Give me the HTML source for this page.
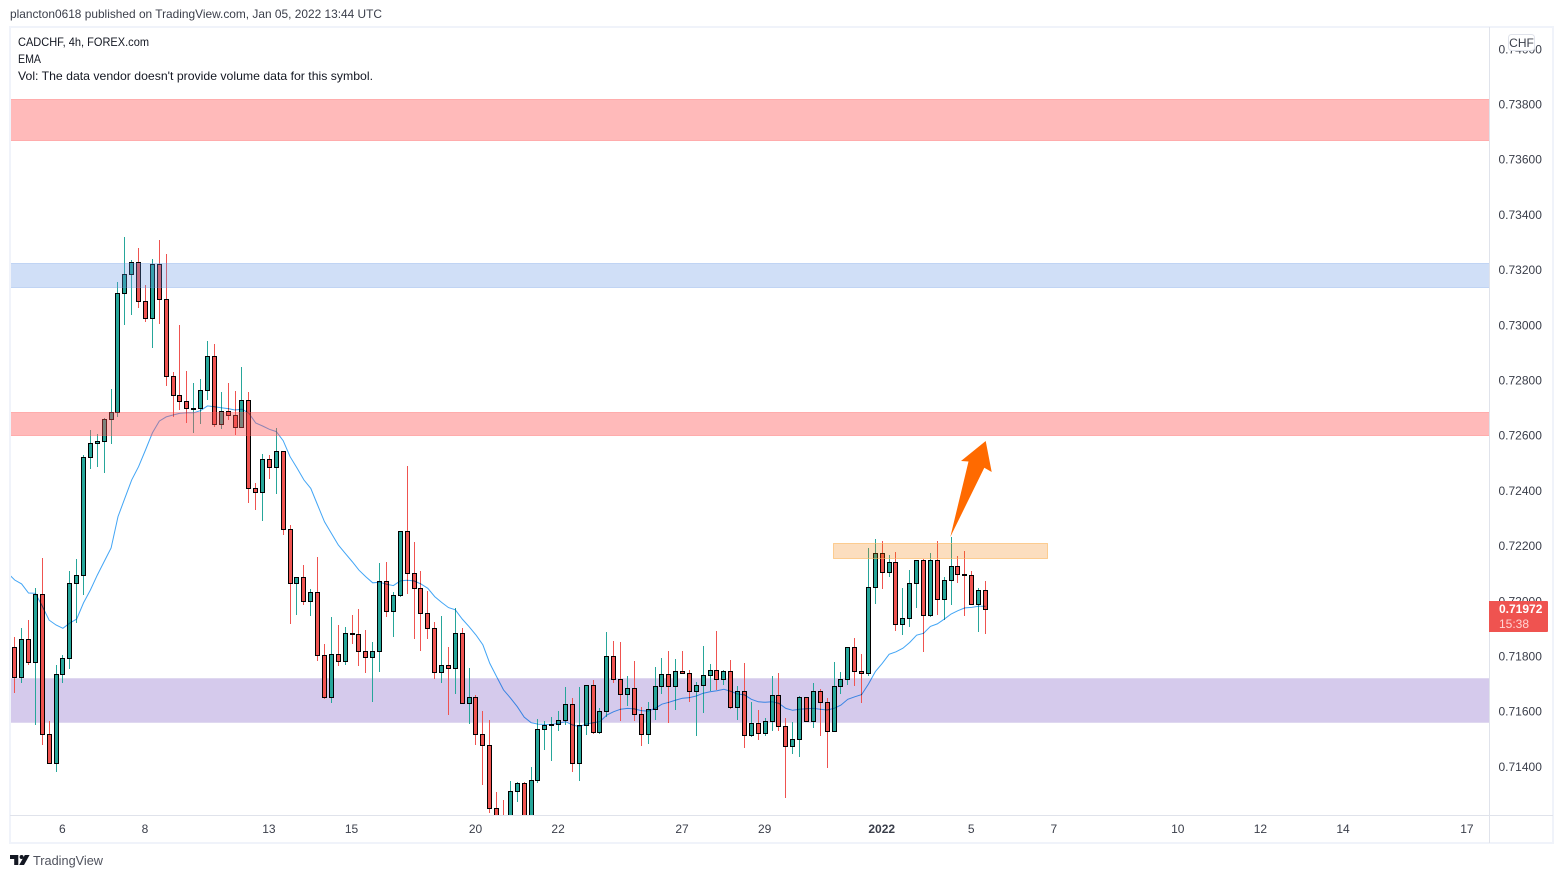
<!DOCTYPE html>
<html lang="en">
<head>
<meta charset="utf-8">
<title>CADCHF 4h chart</title>
<style>
html,body{margin:0;padding:0;background:#fff;width:1563px;height:878px;overflow:hidden}
svg{display:block;font-family:"Liberation Sans",sans-serif}
</style>
</head>
<body>
<svg id="chart" width="1563" height="878" viewBox="0 0 1563 878" xmlns="http://www.w3.org/2000/svg">
  <defs><clipPath id="pane-clip"><rect x="11" y="28" width="1478" height="787"/></clipPath></defs>
  <text x="10" y="18" font-size="12" fill="#3a3e4a" textLength="372" lengthAdjust="spacingAndGlyphs">plancton0618 published on TradingView.com, Jan 05, 2022 13:44 UTC</text>

  <rect x="10" y="27" width="1543" height="816" fill="none" stroke="#f0f3fa" stroke-width="2"/>
  <g id="pane" clip-path="url(#pane-clip)">
    <g id="under-zones"></g>
    <g id="candles"></g>
    <path id="ema-line" fill="none" stroke="#42a5f5" stroke-width="1" style="mix-blend-mode:multiply"></path>
    <g id="over-zones"></g>
    <polygon points="950.3,537 968.5,461.5 961,461 985.7,441 991.7,472 984.3,467.7" fill="#ff6a00"/>
  </g>
  <line x1="1489.5" y1="27" x2="1489.5" y2="843" stroke="#e0e3eb"/>
  <line x1="10" y1="815.5" x2="1553" y2="815.5" stroke="#e0e3eb"/>

  <g font-size="12" fill="#131722">
    <text x="18" y="46" textLength="131" lengthAdjust="spacingAndGlyphs">CADCHF, 4h, FOREX.com</text>
    <text x="18" y="63" textLength="23" lengthAdjust="spacingAndGlyphs">EMA</text>
    <text x="18" y="80" textLength="355" lengthAdjust="spacingAndGlyphs">Vol: The data vendor doesn't provide volume data for this symbol.</text>
  </g>

  <g id="price-axis" font-size="12" fill="#3a3e4a"></g>
  <g id="time-axis" font-size="12" fill="#3a3e4a" text-anchor="middle"></g>

  <g>
    <rect x="1508.5" y="34.5" width="26" height="16" rx="3" fill="#fff" stroke="#e0e3eb"/>
    <text x="1521.5" y="47" font-size="12" text-anchor="middle" fill="#3a3e4a">CHF</text>
  </g>

  <g id="last-price">
    <path d="M1489 601H1547a1 1 0 0 1 1 1V631a1 1 0 0 1 -1 1H1489Z" fill="#ef5350"/>
    <text id="last-price-value" x="1499" y="613" font-size="12" font-weight="bold" fill="#fff"></text>
    <text x="1499" y="628" font-size="12" fill="#ffd5d3">15:38</text>
  </g>

  <g>
    <g fill="#131722">
      <path d="M10 855H18.3V865H14.2V859H10Z"/>
      <circle cx="21.6" cy="857" r="2"/>
      <path d="M24.8 855H29.6L24 865H19.2Z"/>
    </g>
    <text x="33" y="865" font-size="13" fill="#50535e" textLength="70" lengthAdjust="spacingAndGlyphs">TradingView</text>
  </g>
</svg>
<script>
// Prices are in 1/100000 units (71972 = 0.71972).
const open=[71833,71725,71862,71779,72025,71518,71413,71735,71793,72065,72094,72522,72572,72580,72659,72685,73116,73185,73228,73087,73025,73221,73094,72815,72746,72725,72699,72699,72765,72888,72641,72688,72674,72630,72728,72409,72395,72515,72486,72543,72261,72065,72087,72000,72033,71804,71652,71808,71783,71884,71880,71819,71797,71819,72072,71964,72022,72254,72101,72047,71957,71902,71743,71768,71757,71884,71630,71652,71518,71478,71250,71180,71150,71312,71341,71170,71351,71536,71551,71554,71569,71627,71413,71551,71696,71525,71601,71801,71717,71663,71685,71591,71518,71609,71692,71735,71692,71746,71739,71674,71696,71732,71750,71717,71746,71616,71674,71515,71558,71522,71565,71659,71547,71475,71500,71652,71565,71674,71634,71529,71692,71717,71833,71746,71739,72051,72174,72105,72141,71917,71938,72065,72149,71949,72149,72007,72076,72127,72098,72094,71989,72040];
const high=[71871,71903,71932,72048,72157,71566,71769,71805,72110,72153,72530,72621,72606,72664,72769,73157,73320,73237,73280,73146,73240,73309,73258,72831,73001,72834,72791,72805,72943,72932,72758,72791,72762,72849,72758,72429,72534,72530,72628,72543,72275,72087,72131,72043,72159,71844,71942,71914,71906,71950,71971,71896,71851,72138,72141,72033,72254,72490,72214,72109,72036,71924,71946,71833,71975,71902,71757,71659,71601,71569,71308,71280,71348,71345,71345,71399,71572,71565,71580,71601,71688,71649,71688,71696,71714,71612,71888,71855,71851,71728,71783,71616,71634,71761,71795,71819,71790,71819,71750,71707,71837,71772,71891,71750,71786,71693,71775,71634,71605,71576,71728,71739,71576,71562,71656,71652,71703,71681,71649,71779,71743,71833,71866,71808,72192,72225,72217,72167,72178,72047,72112,72149,72152,72174,72217,72087,72232,72163,72181,72109,72047,72072];
const low=[71668,71704,71769,71552,71479,71413,71381,71704,71755,71921,72023,72479,72487,72465,72571,72668,73002,73037,73063,73013,72919,73006,72780,72669,72693,72647,72611,72643,72729,72633,72624,72657,72604,72630,72357,72331,72292,72443,72390,72240,71919,71951,71988,71948,71784,71646,71633,71767,71770,71845,71767,71741,71636,71745,71944,71872,72017,72028,71865,71821,71865,71717,71705,71589,71665,71630,71556,71479,71335,71234,71170,71110,71120,71274,71150,71150,71343,71462,71422,71531,71552,71383,71350,71517,71520,71520,71582,71705,71566,71620,71566,71476,71483,71570,71663,71560,71607,71739,71636,71513,71596,71674,71678,71698,71611,71571,71470,71509,71499,71513,71531,71531,71288,71448,71437,71565,71542,71513,71397,71529,71664,71697,71693,71632,71729,71990,72045,72088,71892,71878,71907,71976,71816,71942,71950,71932,71987,72067,71947,71989,71889,71882];
const close=[71725,71862,71779,72025,71518,71413,71735,71793,72065,72094,72522,72572,72580,72659,72685,73116,73185,73228,73087,73025,73221,73094,72815,72746,72725,72699,72701,72765,72888,72641,72688,72674,72630,72728,72409,72395,72515,72486,72543,72261,72065,72087,72000,72033,71804,71652,71808,71783,71884,71880,71819,71797,71819,72072,71964,72022,72254,72101,72047,71957,71902,71743,71768,71757,71884,71630,71652,71518,71478,71250,71190,71130,71312,71341,71170,71351,71536,71551,71554,71569,71627,71413,71551,71696,71525,71601,71801,71717,71663,71685,71591,71518,71609,71692,71735,71692,71746,71739,71674,71696,71732,71750,71717,71746,71616,71674,71515,71558,71522,71565,71659,71547,71475,71500,71652,71565,71674,71634,71529,71692,71717,71833,71746,71739,72051,72174,72105,72141,71917,71938,72065,72149,71949,72149,72007,72076,72127,72098,72094,71989,72040,71972];
// EMA values: the first entry belongs to the bar just left of the visible pane.
const ema=[72102,72077,72063,72030,72029,71983,71932,71914,71902,71921,71936,71994,72041,72095,72144,72193,72307,72374,72440,72488,72548,72610,72653,72668,72675,72681,72683,72683,72691,72708,72705,72701,72698,72693,72696,72682,72646,72635,72623,72615,72582,72524,72483,72440,72409,72349,72288,72246,72204,72174,72144,72113,72089,72067,72069,72062,72057,72074,72076,72074,72063,72047,72017,71996,71977,71969,71936,71908,71878,71842,71775,71727,71679,71650,71618,71580,71560,71555,71554,71554,71558,71564,71552,71546,71555,71560,71564,71588,71600,71609,71612,71610,71604,71602,71612,71627,71634,71642,71649,71651,71657,71667,71672,71676,71681,71674,71664,71661,71645,71636,71634,71636,71630,71612,71605,71609,71611,71612,71609,71606,71612,71624,71645,71654,71662,71700,71745,71775,71808,71817,71830,71851,71877,71884,71909,71918,71935,71954,71966,71976,71978,71982,71982];
const priceTicks=[74000,73800,73600,73400,73200,73000,72800,72600,72400,72200,72000,71800,71600,71400];
const timeLabels=["6","8","13","15","20","22","27","29","2022","5","7","10","12","14","17"];
const timeLabelBars=[7,19,37,49,67,79,97,109,126,139,151,169,181,193,211];
const boldTimeLabels=["2022"];
const lastPrice=71972;
const zoneNames=["resistance-zone-top","resistance-zone-blue","resistance-zone-target","support-zone-purple","consolidation-zone-orange"];
const zoneTops=[73820,73226,72686,71722,72211];
const zoneBottoms=[73671,73139,72602,71563,72157];
const zoneStartBars=[null,null,null,null,118.9];
const zoneEndBars=[null,null,null,null,150];

const SVGNS='http://www.w3.org/2000/svg';
const UP='#26a69a', DOWN='#ef5350';
function xBar(i){return 14.2+6.885*i;}
function yPrice(p){return (74178.6-p)*0.276;}
function node(tag,parent){const el=document.createElementNS(SVGNS,tag);parent.appendChild(el);return el;}

// Zones
const under=document.getElementById('under-zones');
const over=document.getElementById('over-zones');
const zoneFills=['rgba(255,82,82,.4)','rgba(100,149,230,.3)','rgba(255,82,82,.4)','#d5caec','rgba(245,124,0,.25)'];
const zoneEdges=['rgba(255,82,82,.35)','rgba(100,149,230,.3)','rgba(255,82,82,.35)','#dfd8f0','rgba(252,180,90,.6)'];
zoneNames.forEach(function(name,k){
  const x0=zoneStartBars[k]===null?10:Math.round(xBar(zoneStartBars[k]));
  const x1=zoneEndBars[k]===null?1489:Math.round(xBar(zoneEndBars[k]));
  const y0=Math.round(yPrice(zoneTops[k])), y1=Math.round(yPrice(zoneBottoms[k]));
  const rect=node('rect',k===3?under:over);
  
  
  rect.setAttribute('x',x0+.5);
  rect.setAttribute('y',y0+.5);
  rect.setAttribute('width',x1-x0);
  rect.setAttribute('height',y1-y0);
  rect.setAttribute('fill',zoneFills[k]);
  rect.setAttribute('stroke',zoneEdges[k]);
  rect.setAttribute('shape-rendering','crispEdges');
});

// Candles
const candleGroup=document.getElementById('candles');
open.forEach(function(o,i){
  const c=close[i], col=Math.round(xBar(i));
  const color=c>=o?UP:DOWN;
  const top=Math.round(yPrice(Math.max(o,c))), bottom=Math.round(yPrice(Math.min(o,c)));
  const yH=Math.round(yPrice(high[i])), yL=Math.round(yPrice(low[i]));
  const g=node('g',candleGroup);
  
  
  g.setAttribute('shape-rendering','crispEdges');
  const wick=node('rect',g);
  
  
  wick.setAttribute('x',col);
  wick.setAttribute('y',yH);
  wick.setAttribute('width',1);
  wick.setAttribute('height',Math.max(1,yL-yH));
  wick.setAttribute('fill',color);
  const body=node('rect',g);
  
  
  body.setAttribute('x',col-1.5);
  body.setAttribute('y',top+.5);
  body.setAttribute('width',4);
  body.setAttribute('height',Math.max(1,bottom-top));
  body.setAttribute('fill',color);
  body.setAttribute('stroke','#000');
  body.setAttribute('stroke-width',1);
});

// EMA
document.getElementById('ema-line').setAttribute('d',ema.map(function(v,k){
  return (k?'L':'M')+(xBar(k-1)+.5).toFixed(1)+' '+yPrice(v).toFixed(1);
}).join(''));

// Price axis
const priceAxis=document.getElementById('price-axis');
priceTicks.forEach(function(p){
  const t=node('text',priceAxis);
  
  
  t.setAttribute('x',1498.5);
  t.setAttribute('y',yPrice(p)+4);
  t.textContent=(p/100000).toFixed(5);
});

// Time axis
const timeAxis=document.getElementById('time-axis');
timeLabels.forEach(function(label,k){
  const t=node('text',timeAxis);
  
  
  t.setAttribute('x',xBar(timeLabelBars[k]));
  t.setAttribute('y',833);
  if(boldTimeLabels.indexOf(label)>=0){t.setAttribute('font-weight','bold');}
  t.textContent=label;
});

document.getElementById('last-price-value').textContent=(lastPrice/100000).toFixed(5);
</script>
</body>
</html>
